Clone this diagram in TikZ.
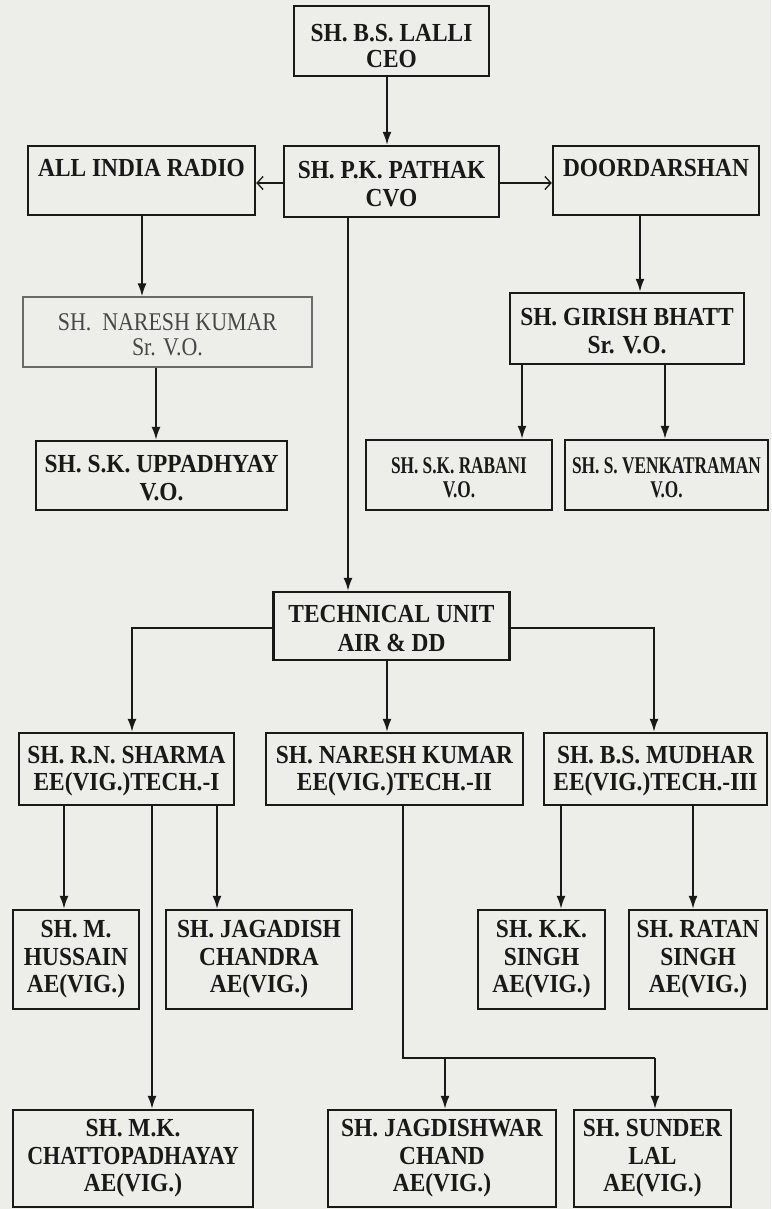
\documentclass[tikz,border=0pt]{standalone}
\usepackage{graphicx}
\usepackage{fontspec}
\setmainfont{Liberation Serif}
\newfontfamily\bcond[FakeStretch=0.9]{Liberation Serif}
\newfontfamily\scond[FakeStretch=0.72]{Liberation Serif}
\newfontfamily\rcond[FakeStretch=0.86]{Liberation Serif}
\usetikzlibrary{arrows.meta}
\definecolor{paper}{RGB}{237,237,233}
\definecolor{ink}{RGB}{25,25,25}
\newcommand\dsA{\rule{0pt}{22pt}}
\newcommand\dsB{\rule{0pt}{27pt}}
\tikzset{
  box/.style={draw=ink, line width=2.4pt, inner sep=0pt, align=center, text=ink,
    font=\bcond\bfseries\fontsize{26}{27.5}\selectfont},
  thinbox/.style={draw=ink!65, line width=1.3pt, inner sep=0pt, align=center, text=ink!80,
    font=\rcond\fontsize{25.5}{24.5}\selectfont},
  smallbox/.style={box, font=\scond\bfseries\fontsize{24}{24}\selectfont},
  arr/.style={draw=ink, line width=1.7pt, -{Latex[length=13pt,width=9pt]}},
  harr/.style={draw=ink, line width=1.7pt, -{Straight Barb[length=6pt,width=13pt,line width=1.3pt]}},
  ln/.style={draw=ink, line width=1.7pt},
}
\begin{document}
\begin{tikzpicture}[x=1pt,y=-1pt]
\fill[paper] (0,0) rectangle (771,1209);
\useasboundingbox (0,0) rectangle (771,1209);
% level 1-2
\node[box, minimum width=195pt, minimum height=70pt] (ceo) at (391.5,41) {\dsB SH. B.S. LALLI\\[-2pt]CEO};
\node[box, minimum width=215pt, minimum height=71pt] (cvo) at (391.5,181.5) {\dsA SH. P.K. PATHAK\\CVO};
\node[box, minimum width=227pt, minimum height=69pt] (air) at (141.5,180.5) {\rule[-25pt]{0pt}{20pt}ALL INDIA RADIO};
\node[box, minimum width=206pt, minimum height=69pt] (dd) at (656,180.5) {\rule[-25pt]{0pt}{20pt}DOORDARSHAN};
% level 3
\node[thinbox, minimum width=289pt, minimum height=70pt] (nk) at (167.5,332) {\dsA SH.\ \ NARESH KUMAR\\Sr. V.O.};
\node[box, minimum width=234pt, minimum height=71pt] (gb) at (627,328.5) {\dsA SH. GIRISH BHATT\\Sr. V.O.};
% level 4
\node[box, minimum width=251pt, minimum height=69pt] (upp) at (161.5,475.5) {\dsA SH. S.K. UPPADHYAY\\V.O.};
\node[smallbox, minimum width=186pt, minimum height=70pt] (rab) at (459,475) {\dsA SH. S.K. RABANI\\V.O.};
\node[smallbox, minimum width=203pt, minimum height=70pt] (ven) at (666.5,475) {\dsA SH. S. VENKATRAMAN\\V.O.};
% technical unit
\node[box, minimum width=236pt, minimum height=68pt] (tu) at (391.5,626) {\dsA TECHNICAL UNIT\\[1.5pt]AIR \& DD};
\node[box, minimum width=215pt, minimum height=72pt] (sh) at (126.5,769) {\dsA SH. R.N. SHARMA\\EE(VIG.)TECH.-I};
\node[box, minimum width=257pt, minimum height=72pt] (nk2) at (394.5,769) {\dsA SH. NARESH KUMAR\\EE(VIG.)TECH.-II};
\node[box, minimum width=223pt, minimum height=72pt] (mu) at (655.5,769) {\dsA SH. B.S. MUDHAR\\EE(VIG.)TECH.-III};
% AEs
\node[box, minimum width=126pt, minimum height=99pt] (hu) at (76,959.5) {SH. M.\\HUSSAIN\\AE(VIG.)};
\node[box, minimum width=186pt, minimum height=99pt] (jag) at (259,959.5) {SH. JAGADISH\\CHANDRA\\AE(VIG.)};
\node[box, minimum width=127pt, minimum height=99pt] (kk) at (541.5,959.5) {SH. K.K.\\SINGH\\AE(VIG.)};
\node[box, minimum width=138pt, minimum height=99pt] (rat) at (698,959.5) {SH. RATAN\\SINGH\\AE(VIG.)};
\node[box, minimum width=240pt, minimum height=97pt] (ch) at (133,1158.5) {SH. M.K.\\\scalebox{0.94}[1]{CHATTOPADHAYAY}\\AE(VIG.)};
\node[box, minimum width=228pt, minimum height=97pt] (jw) at (442,1158.5) {SH. JAGDISHWAR\\CHAND\\AE(VIG.)};
\node[box, minimum width=157pt, minimum height=97pt] (su) at (652.5,1158.5) {SH. SUNDER\\LAL\\AE(VIG.)};
% junction coordinates
\coordinate (j1) at (403,1058);
\coordinate (j2) at (655,1058);
\coordinate (tl) at (132,628);
\coordinate (tr) at (654,628);
% connectors
\draw[arr] (ceo.south -| 387,0) -- (cvo.north -| 387,0);
\draw[harr] (cvo.west |- 0,183) -- (air.east |- 0,183);
\draw[harr] (cvo.east |- 0,183) -- (dd.west |- 0,183);
\draw[arr] (air.south -| 142,0) -- (nk.north -| 142,0);
\draw[arr] (nk.south -| 156,0) -- (upp.north -| 156,0);
\draw[arr] (dd.south -| 640,0) -- (gb.north -| 640,0);
\draw[arr] (gb.south -| 522,0) -- (rab.north -| 522,0);
\draw[arr] (gb.south -| 665,0) -- (ven.north -| 665,0);
\draw[arr] (cvo.south -| 348,0) -- (tu.north -| 348,0);
\draw[arr] (tu.west |- tl) -- (tl) -- (sh.north -| tl);
\draw[arr] (tu.east |- tr) -- (tr) -- (mu.north -| tr);
\draw[arr] (tu.south -| 387,0) -- (nk2.north -| 387,0);
\draw[arr] (sh.south -| 64,0) -- (hu.north -| 64,0);
\draw[arr] (sh.south -| 217,0) -- (jag.north -| 217,0);
\draw[arr] (sh.south -| 152,0) -- (ch.north -| 152,0);
\draw[arr] (mu.south -| 561,0) -- (kk.north -| 561,0);
\draw[arr] (mu.south -| 693,0) -- (rat.north -| 693,0);
\draw[ln] (nk2.south -| j1) -- (j1) -- (j2);
\draw[arr] (j1 -| 445,0) -- (jw.north -| 445,0);
\draw[arr] (j2) -- (su.north -| j2);
\end{tikzpicture}
\end{document}
